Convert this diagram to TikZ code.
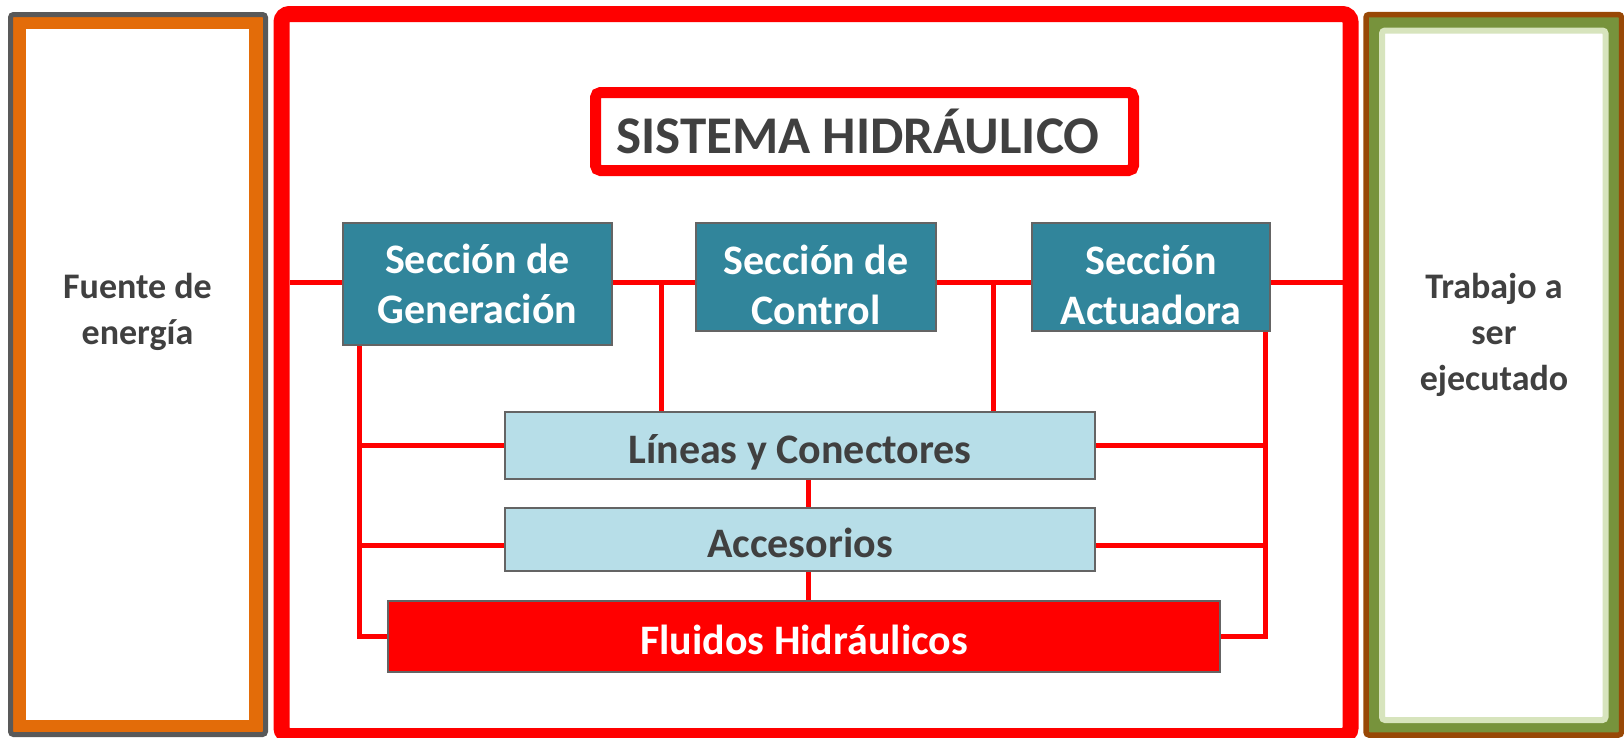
\documentclass[tikz,border=0pt]{standalone}
\usepackage{fontspec}
\setmainfont{Carlito}
\definecolor{seccionteal}{RGB}{49,133,155}
\definecolor{piezablue}{RGB}{183,222,232}
\definecolor{bordegray}{RGB}{100,100,100}
\definecolor{textogray}{RGB}{64,64,64}
\definecolor{fuenteorange}{RGB}{227,108,9}
\definecolor{fuentegray}{RGB}{89,89,89}
\definecolor{trabajobrown}{RGB}{152,72,6}
\definecolor{trabajogreen}{RGB}{119,147,60}
\definecolor{trabajolight}{RGB}{215,228,189}

\begin{document}
\begin{tikzpicture}[x=1pt, y=-1pt,
    seccion/.style={draw=bordegray, line width=1.5, fill=seccionteal, text=white,
      font=\fontsize{42}{50}\selectfont\bfseries, align=center, inner sep=0pt},
    pieza/.style={draw=bordegray, line width=1.5, fill=piezablue, text=textogray,
      font=\fontsize{42}{50}\selectfont\bfseries, inner sep=0pt, text height=36pt, text depth=0pt},
    lado/.style={text=textogray, font=\fontsize{36}{46}\selectfont\bfseries, align=center},
    tubo/.style={draw=red, line width=5}]
\useasboundingbox (0,0) rectangle (1624,737);

% fuente de energia
\draw[line width=5, draw=fuentegray, fill=fuenteorange, rounded corners=3] (10.5,14.5) rectangle (265.5,734.5);
\fill[white] (26,29) rectangle (249,720);
\node[lado] (fuente) at (137.5,311.5) {Fuente de\\energía};

% trabajo
\draw[line width=5.5, draw=trabajobrown, fill=trabajogreen, rounded corners=3] (1366,14.5) rectangle (1621.5,735);
\draw[line width=6, draw=trabajolight, fill=white, rounded corners=3] (1382,30.5) rectangle (1605.5,720);
\node[lado] (trabajo) at (1494,334.5) {Trabajo a\\ser\\ejecutado};

% sistema
\draw[line width=16, draw=red, rounded corners=8] (281.5,14) rectangle (1350.5,736);
\node[draw=red, line width=11, fill=white, rounded corners=5, minimum width=538, minimum height=78,
  inner sep=0pt, text=textogray, font=\fontsize{53}{60}\selectfont\bfseries]
  (titulo) at (864.5,131.5) {SISTEMA HIDRÁULICO\hspace*{13pt}};

\coordinate (izq) at (290,282);
\coordinate (der) at (1343,282);

\node[seccion, minimum width=269, minimum height=122] (gen) at (477.5,284) {Sección de\\Generación};
\node[seccion, minimum width=240, minimum height=108] (ctrl) at (816,277) {\rule{0pt}{45pt}Sección de\\Control};
\node[seccion, minimum width=238, minimum height=108] (act) at (1151,277) {\rule{0pt}{45pt}Sección\\Actuadora};

\node[pieza, minimum width=590, minimum height=67] (lineas) at (800,445.5) {Líneas y Conectores};
\node[pieza, minimum width=590, minimum height=63] (acc) at (800,539.5) {Accesorios};
\node[pieza, fill=red, text=white, minimum width=832, minimum height=71] (fluidos) at (804,636.5) {Fluidos Hidráulicos};

% tuberias
\coordinate (bi) at (359,0);
\coordinate (bd) at (1265,0);
\coordinate (c1) at (661,282);
\coordinate (c2) at (993,282);
\coordinate (cm) at (808,0);
\coordinate (ya) at (0,545);

\draw[tubo] (izq) -- (gen.west |- izq);
\draw[tubo] (gen.east |- izq) -- (ctrl.west |- izq);
\draw[tubo] (ctrl.east |- izq) -- (act.west |- izq);
\draw[tubo] (act.east |- der) -- (der);
\draw[tubo] (c1) -- (c1 |- lineas.north);
\draw[tubo] (c2) -- (c2 |- lineas.north);

\draw[tubo] (bi |- gen.south) -- (bi |- fluidos.west) -- (fluidos.west);
\draw[tubo] (bi |- lineas.west) -- (lineas.west);
\draw[tubo] (bi |- ya) -- (acc.west |- ya);
\draw[tubo] (bd |- act.south) -- (bd |- fluidos.east) -- (fluidos.east);
\draw[tubo] (bd |- lineas.east) -- (lineas.east);
\draw[tubo] (bd |- ya) -- (acc.east |- ya);

\draw[tubo] (cm |- lineas.south) -- (cm |- acc.north);
\draw[tubo] (cm |- acc.south) -- (cm |- fluidos.north);
\end{tikzpicture}
\end{document}
